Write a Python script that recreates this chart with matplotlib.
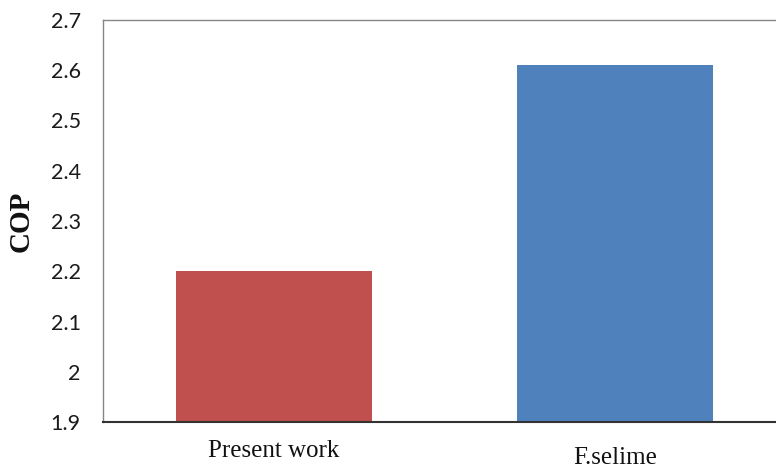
import matplotlib
matplotlib.use("Agg")
import matplotlib.pyplot as plt
import matplotlib.transforms as mtransforms

categories = ["Present work", "F.selime"]
cop_values = [2.2, 2.61]
bar_colors = ["#C0504D", "#4F81BD"]
y_ticks = [1.9, 2.0, 2.1, 2.2, 2.3, 2.4, 2.5, 2.6, 2.7]
y_tick_labels = ["1.9", "2", "2.1", "2.2", "2.3", "2.4", "2.5", "2.6", "2.7"]

fig = plt.figure(figsize=(7.76, 4.72), dpi=100)
ax = fig.add_axes([103/776, 50/472, 683/776, 402/472])

x = list(range(len(categories)))
ax.bar(x, cop_values, width=0.573, color=bar_colors, zorder=2)

ax.set_xlim(-0.5, 1.5)
ax.set_ylim(1.9, 2.7)
ax.set_yticks(y_ticks)
ax.set_yticklabels(y_tick_labels, fontsize=15.5, family=["Lato", "DejaVu Sans"], color="#1a1a1a")
ax.set_xticks(x)
ax.set_xticklabels(categories, fontsize=18, family=["Liberation Serif"], color="#111111")
ax.tick_params(axis="y", length=0, pad=16)
ax.tick_params(axis="x", length=0, pad=13)

# second category label sits a little lower in the reference
lbls = ax.get_xticklabels()
offset = mtransforms.ScaledTranslation(0, -7/100, fig.dpi_scale_trans)
lbls[1].set_transform(lbls[1].get_transform() + offset)

for side in ["left", "top"]:
    ax.spines[side].set_color("#868686")
    ax.spines[side].set_linewidth(1.0)
ax.spines["bottom"].set_color("#333333")
ax.spines["bottom"].set_linewidth(1.5)
ax.spines["right"].set_visible(False)

fig.text(21/776, 1 - 221/472, "COP", rotation=90, ha="center", va="center",
         fontsize=21, fontweight="bold", family=["Liberation Serif"], color="#111111")

fig.savefig("out.png", dpi=100)
